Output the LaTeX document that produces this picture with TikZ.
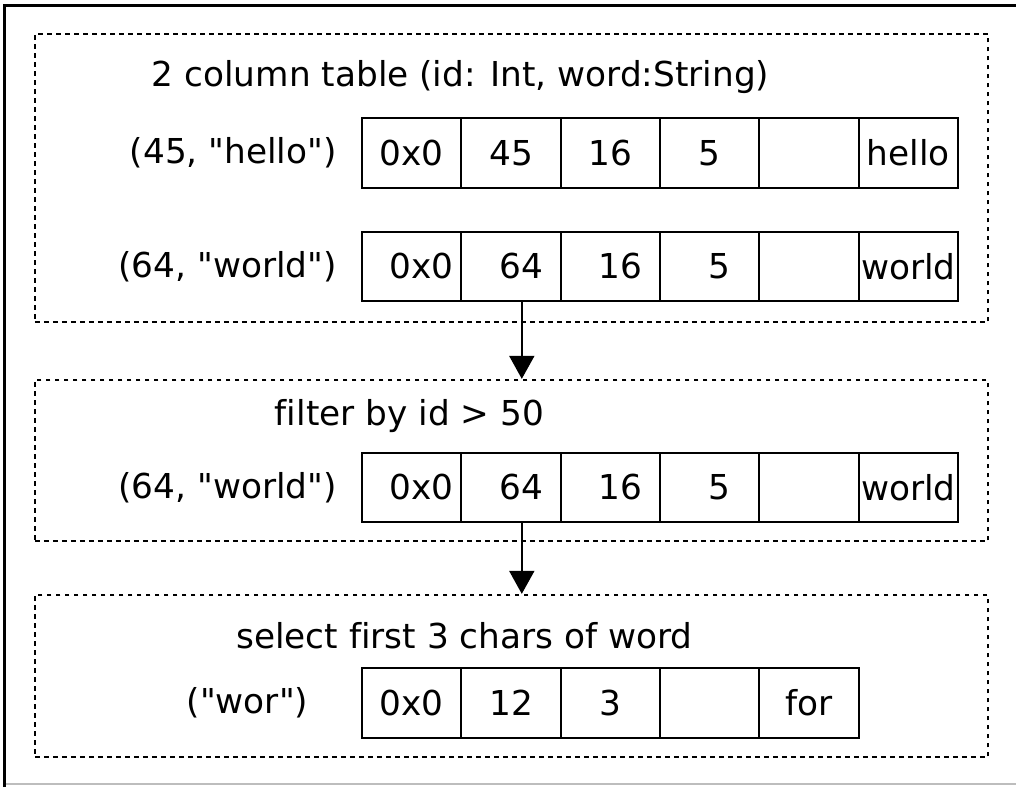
\documentclass[tikz,border=0pt]{standalone}
\usepackage{fontspec}
\setmainfont{DejaVu Sans}[Ligatures={TeXOff,NoCommon}]
\usetikzlibrary{arrows.meta,positioning}
\definecolor{FrameGray}{HTML}{BDBDBD}
\tikzset{
  cell/.style={draw,line width=1.5pt,minimum width=2.483cm,minimum height=1.74cm,inner sep=0pt},
  stage/.style={draw,line width=1.6pt,dash pattern=on 3.4pt off 3pt,inner sep=0pt},
  txt/.style={inner sep=0pt},
  flow/.style={line width=1.5pt,-{Triangle[width=17.8pt,length=16.4pt]}}
}

\begin{document}
\begin{tikzpicture}[x=0.025cm,y=-0.025cm,every node/.style={font=\fontsize{24.4}{29}\selectfont}]
\path[use as bounding box] (0,0) rectangle (1016,787);
% outer frame
\draw[FrameGray,line width=1pt] (4,784) -- (1016,784);
\draw[line width=2.2pt] (4.5,787) -- (4.5,5.5) -- (1016,5.5);
% stages
\node[stage,minimum width=23.825cm,minimum height=7.2cm] (stage1) at (511.5,178) {};
\node[stage,minimum width=23.825cm,minimum height=4.025cm] (stage2) at (511.5,460.5) {};
\node[stage,minimum width=23.825cm,minimum height=4.05cm] (stage3) at (511.5,676) {};
\node[txt,anchor=base] (title1) at (460.5,87) {2 column table (id: Int, word:String)};
\node[txt,anchor=base] (title2) at (409.5,425) {filter by id > 50};
\node[txt,anchor=base] (title3) at (464.5,648) {select first 3 chars of word};
% row (45, "hello")
\node[cell] (r1c1) at (411.7,153) {0x0};
\node[cell] (r1c2) at (511,153) {45};
\node[cell] (r1c3) at (610.3,153) {16};
\node[cell] (r1c4) at (709.7,153) {5};
\node[cell] (r1c5) at (809,153) {};
\node[cell] (r1c6) at (908.3,153) {hello};
\node[txt,left=0.6cm of r1c1] (lab1) {(45, "hello")};
% row (64, "world")
\node[cell] (r2c1) at (411.7,266.5) {\hspace*{0.5cm}0x0};
\node[cell] (r2c2) at (511,266.5) {\hspace*{0.5cm}64};
\node[cell] (r2c3) at (610.3,266.5) {\hspace*{0.5cm}16};
\node[cell] (r2c4) at (709.7,266.5) {\hspace*{0.5cm}5};
\node[cell] (r2c5) at (809,266.5) {};
\node[cell] (r2c6) at (908.3,266.5) {world};
\node[txt,left=0.6cm of r2c1] (lab2) {(64, "world")};
% filtered row
\node[cell] (r3c1) at (411.7,487.5) {\hspace*{0.5cm}0x0};
\node[cell] (r3c2) at (511,487.5) {\hspace*{0.5cm}64};
\node[cell] (r3c3) at (610.3,487.5) {\hspace*{0.5cm}16};
\node[cell] (r3c4) at (709.7,487.5) {\hspace*{0.5cm}5};
\node[cell] (r3c5) at (809,487.5) {};
\node[cell] (r3c6) at (908.3,487.5) {world};
\node[txt,left=0.6cm of r3c1] (lab3) {(64, "world")};
% selected row
\node[cell] (r4c1) at (411.7,703) {0x0};
\node[cell] (r4c2) at (511,703) {12};
\node[cell] (r4c3) at (610.3,703) {3};
\node[cell] (r4c4) at (709.7,703) {};
\node[cell] (r4c5) at (809,703) {for};
\node[txt] (lab4) at (247.5,703) {("wor")};
% arrows
\draw[flow] ([xshift=0.27cm]r2c2.south) -- ([xshift=0.27cm]r2c2.south |- stage2.north);
\draw[flow] ([xshift=0.27cm]r3c2.south) -- ([xshift=0.27cm]r3c2.south |- stage3.north);
\end{tikzpicture}
\end{document}
